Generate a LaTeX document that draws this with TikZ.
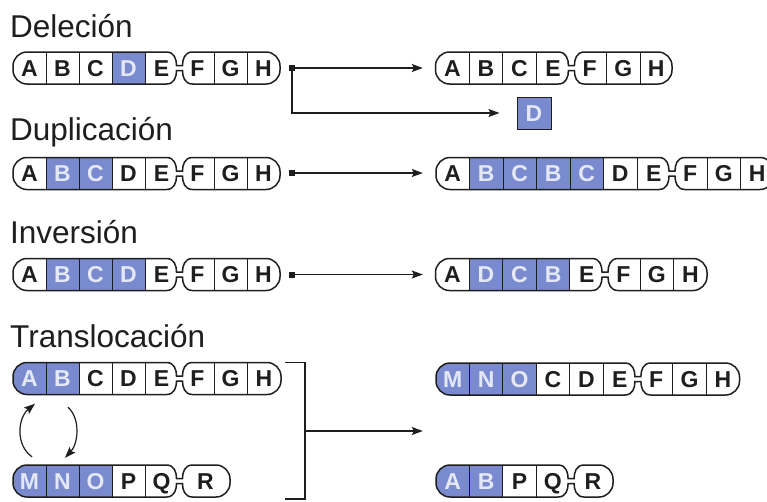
\documentclass[tikz,border=0pt]{standalone}
\usepackage{fontspec}
\setmainfont{Liberation Sans}
\usetikzlibrary{arrows.meta}
\definecolor{hl}{RGB}{122,138,206}
\definecolor{ink}{RGB}{30,30,30}
\definecolor{hltext}{RGB}{228,232,246}

% #1 prefix, #2 x0, #3 yc, #4 cell width, #5 cells before centromere,
% #6 right end, #7 cells (letter/style), #8 number of cells
\newcommand\chrom[8]{%
  \pgfmathsetmacro\cyt{#3-16}%
  \pgfmathsetmacro\cyb{#3+16}%
  \pgfmathsetmacro\cxc{#2+#5*#4+1.5}%
  \pgfmathsetmacro\cnt{#3-2.5}%
  \pgfmathsetmacro\cnb{#3+2.5}%
  \def\chrompath{(#2,\cyt+14) -- (#2,\cyb-14)
    .. controls (#2,\cyb-6.3) and (#2+6.3,\cyb) .. (#2+14,\cyb)
    -- (\cxc-13,\cyb)
    .. controls (\cxc-5,\cyb) and (\cxc-3,\cnb+6) .. (\cxc-3,\cnb)
    -- (\cxc+3,\cnb)
    .. controls (\cxc+3,\cnb+6) and (\cxc+5,\cyb) .. (\cxc+13,\cyb)
    -- (#6-14,\cyb)
    .. controls (#6-6.3,\cyb) and (#6,\cyb-6.3) .. (#6,\cyb-14)
    -- (#6,\cyt+14)
    .. controls (#6,\cyt+6.3) and (#6-6.3,\cyt) .. (#6-14,\cyt)
    -- (\cxc+13,\cyt)
    .. controls (\cxc+5,\cyt) and (\cxc+3,\cnt-6) .. (\cxc+3,\cnt)
    -- (\cxc-3,\cnt)
    .. controls (\cxc-3,\cnt-6) and (\cxc-5,\cyt) .. (\cxc-13,\cyt)
    -- (#2+14,\cyt)
    .. controls (#2+6.3,\cyt) and (#2,\cyt+6.3) .. (#2,\cyt+14) -- cycle}%
  \begin{scope}
    \clip \chrompath;
    \foreach \lt/\s [count=\i] in {#7}{%
      \pgfmathsetmacro\xl{#2+(\i-1)*#4+(\i>#5)*3}%
      \pgfmathsetmacro\xr{ifthenelse(\i==#8,#6,\xl+#4)}%
      \fill[fill\s] (\xl,\cyt) rectangle (\xr,\cyb);
    }
  \end{scope}
  \foreach \lt/\s [count=\i] in {#7}{%
    \pgfmathsetmacro\xl{#2+(\i-1)*#4+(\i>#5)*3}%
    \pgfmathsetmacro\xr{ifthenelse(\i==#8,#6,\xl+#4)}%
    \pgfmathsetmacro\cw{\xr-\xl}%
    \pgfmathtruncatemacro\cc{#5+1}%
    \ifnum\i>1 \ifnum\i=\cc\else\draw[divider] (\xl,\cyt) -- (\xl,\cyb);\fi\fi
    \node[cell\s, minimum width=\cw pt] (#1\i) at ({(\xl+\xr)/2},#3) {\lt};
  }
  \draw[outline] \chrompath;
}

\begin{document}
\begin{tikzpicture}[x=1pt,y=-1pt,
  filln/.style={fill=white},
  fillh/.style={fill=hl},
  divider/.style={draw=ink, line width=0.9pt},
  outline/.style={draw=ink, line width=1.5pt},
  cellbase/.style={inner sep=0pt, minimum height=32pt, text height=16.5pt, text depth=0pt,
    font=\bfseries\fontsize{23}{23}\selectfont},
  celln/.style={cellbase, text=ink},
  cellh/.style={cellbase, text=hltext},
  title/.style={anchor=base west, inner sep=0pt, text=ink, font=\fontsize{31.5}{36}\selectfont},
  sq/.style={fill=ink, minimum size=6pt, inner sep=0pt},
  conn/.style={draw=ink, line width=1.2pt, -{Stealth[length=11pt,width=8pt,inset=2pt]}},
  bracket/.style={draw=ink, line width=1.2pt},
  dbox/.style={fill=hl, draw=ink, line width=1pt, minimum width=34pt, minimum height=32pt,
    inner sep=0pt, text height=16.5pt, text depth=0pt, text=hltext,
    font=\bfseries\fontsize{23}{23}\selectfont}]
\useasboundingbox (0,0) rectangle (767,501);
\fill[white] (0,0) rectangle (767,501);

% titles
\node[title] (t1) at (10,37) {Deleción};
\node[title] (t2) at (10,140) {Duplicación};
\node[title] (t3) at (10,243) {Inversión};
\node[title] (t4) at (10,347) {Translocación};

% Deletion
\chrom{da}{13}{68}{33}{5}{280}{A/n,B/n,C/n,D/h,E/n,F/n,G/n,H/n}{8}
\chrom{db}{435.5}{68}{33.6}{4}{672}{A/n,B/n,C/n,E/n,F/n,G/n,H/n}{7}
\node[dbox] (dd) at (534,113) {D};
\node[sq] (s1) at (292,68) {};
\draw[conn, shorten >=12.5pt] (s1) -- (db1.west);
\draw[conn, shorten >=17pt] (s1) |- (dd.west);

% Duplication
\chrom{pa}{13}{173.5}{33}{5}{280}{A/n,B/h,C/h,D/n,E/n,F/n,G/n,H/n}{8}
\chrom{pb}{436}{173.5}{33.5}{7}{774}{A/n,B/h,C/h,B/h,C/h,D/n,E/n,F/n,G/n,H/n}{10}
\node[sq] (s2) at (292,173) {};
\draw[conn, shorten >=13pt] (s2) -- (s2 -| pb1.west);

% Inversion
\chrom{ia}{13}{274.5}{33}{5}{280}{A/n,B/h,C/h,D/h,E/n,F/n,G/n,H/n}{8}
\chrom{ib}{435.5}{274.5}{33.6}{5}{707}{A/n,D/h,C/h,B/h,E/n,F/n,G/n,H/n}{8}
\node[sq] (s3) at (292,274.5) {};
\draw[conn, shorten >=12.5pt] (s3) -- (ib1.west);

% Translocation
\chrom{ta}{13}{378.5}{33}{5}{281}{A/h,B/h,C/n,D/n,E/n,F/n,G/n,H/n}{8}
\chrom{tb}{13}{481}{33}{5}{230}{M/h,N/h,O/h,P/n,Q/n,R/n}{6}
\chrom{ra}{436}{379}{33.4}{6}{739.5}{M/h,N/h,O/h,C/n,D/n,E/n,F/n,G/n,H/n}{9}
\chrom{rb}{436}{481}{33.4}{4}{613}{A/h,B/h,P/n,Q/n,R/n}{5}

\coordinate (bl) at ([xshift=4pt]ta8.north east);
\coordinate (bb) at (305,499);
\coordinate (bm) at (305,431);
\draw[bracket] (bl) -| (bb) -- (bl |- bb);
\draw[conn, shorten >=13pt] (bm) -- (bm -| ra1.west);

\draw[conn] ([xshift=2.5pt,yshift=8pt]tb1.north) .. controls +(-17,-12) and +(-17,14) .. ([xshift=5.5pt,yshift=-9pt]ta1.south);
\draw[conn] ([xshift=5.5pt,yshift=-12.5pt]ta2.south) .. controls +(13,12) and +(13,-14) .. ([xshift=2.5pt,yshift=7pt]tb2.north);
\end{tikzpicture}
\end{document}
